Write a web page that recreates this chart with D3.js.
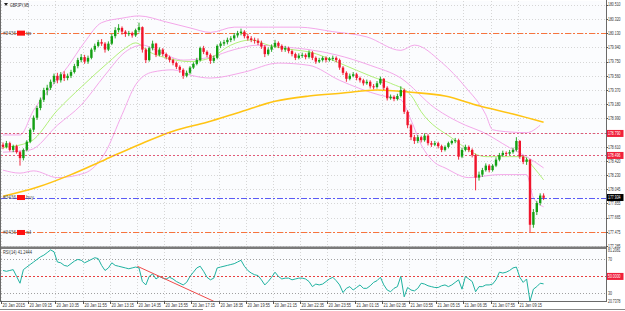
<!DOCTYPE html>
<html>
<head>
<meta charset="utf-8">
<script src="https://cdn.jsdelivr.net/npm/d3@7/dist/d3.min.js"></script>
<style>
  body { margin: 0; background: #ffffff; }
  svg { display: block; }
  text { font-family: "Liberation Sans", "DejaVu Sans", sans-serif; }
</style>
</head>
<body>
<svg id="chart" width="625" height="311"></svg>
<script>
// ---- data ----
const firstOpen = 178.64;
const closes = [178.61,178.66,178.57,178.62,178.54,178.46,178.57,178.68,178.84,179.00,
  179.13,179.24,179.37,179.40,179.48,179.56,179.50,179.58,179.53,179.56,
  179.61,179.69,179.77,179.81,179.75,179.80,179.91,179.96,180.01,179.99,
  179.91,179.99,180.09,180.17,180.20,180.15,180.12,180.13,180.10,180.17,
  180.21,179.91,179.77,179.93,179.99,179.84,179.91,179.85,179.81,179.77,
  179.73,179.68,179.64,179.56,179.60,179.67,179.72,179.77,179.93,179.88,
  179.84,179.76,179.80,179.96,179.99,180.01,180.04,180.06,180.10,180.13,
  180.15,180.09,180.06,180.04,180.03,180.00,179.95,179.85,179.91,179.95,
  180.00,179.96,179.91,179.93,179.89,179.85,179.80,179.83,179.84,179.81,
  179.87,179.80,179.75,179.77,179.80,179.77,179.79,179.80,179.77,179.67,
  179.60,179.52,179.56,179.58,179.53,179.50,179.46,179.48,179.42,179.41,
  179.46,179.52,179.40,179.26,179.28,179.25,179.29,179.37,179.08,178.90,
  178.74,178.69,178.74,178.70,178.76,178.66,178.64,178.66,178.62,178.57,
  178.61,178.66,178.69,178.70,178.48,178.57,178.61,178.57,178.50,178.20,
  178.24,178.30,178.36,178.30,178.36,178.44,178.50,178.53,178.52,178.54,
  178.57,178.69,178.48,178.41,178.44,177.57,177.74,177.86,177.96,177.93];
const highs = [178.67,178.69,178.68,178.64,178.64,178.56,178.59,178.70,178.86,179.03,
  179.16,179.27,179.40,179.44,179.51,179.59,179.60,179.61,179.62,179.59,
  179.64,179.72,179.80,179.85,179.84,179.83,179.93,179.99,180.04,180.05,
  180.01,180.02,180.12,180.21,180.25,180.22,180.17,180.16,180.15,180.19,
  180.27,180.22,179.93,179.95,180.03,180.00,179.94,179.93,179.87,179.83,
  179.79,179.75,179.70,179.66,179.63,179.69,179.74,179.80,179.95,179.96,
  179.90,179.86,179.83,179.98,180.02,180.04,180.07,180.09,180.13,180.16,
  180.19,180.17,180.12,180.09,180.07,180.06,180.03,179.97,179.94,179.98,
  180.04,180.02,179.98,179.96,179.95,179.91,179.87,179.86,179.87,179.86,
  179.90,179.89,179.82,179.80,179.82,179.82,179.81,179.83,179.82,179.79,
  179.69,179.62,179.59,179.61,179.60,179.55,179.52,179.51,179.50,179.45,
  179.49,179.55,179.53,179.42,179.31,179.30,179.32,179.42,179.39,179.10,
  178.92,178.77,178.77,178.76,178.79,178.78,178.69,178.69,178.68,178.64,
  178.63,178.68,178.71,178.73,178.72,178.60,178.64,178.63,178.59,178.52,
  178.28,178.33,178.39,178.38,178.38,178.47,178.53,178.56,178.55,178.57,
  178.60,178.74,178.70,178.50,178.47,178.45,177.78,177.89,177.99,177.99];
const lows = [178.58,178.59,178.55,178.54,178.52,178.36,178.43,178.55,178.66,178.81,
  178.97,179.10,179.21,179.30,179.37,179.45,179.46,179.47,179.49,179.50,
  179.53,179.59,179.66,179.74,179.72,179.72,179.78,179.88,179.94,179.96,
  179.87,179.89,179.97,180.06,180.14,180.11,180.08,180.09,180.07,180.08,
  180.14,179.87,179.73,179.75,179.90,179.81,179.82,179.82,179.78,179.74,
  179.70,179.65,179.60,179.52,179.54,179.58,179.65,179.70,179.75,179.85,
  179.81,179.72,179.73,179.78,179.93,179.96,179.98,180.01,180.03,180.07,
  180.10,180.06,180.03,180.01,179.99,179.97,179.92,179.81,179.83,179.88,
  179.93,179.93,179.88,179.88,179.86,179.82,179.77,179.78,179.80,179.78,
  179.79,179.77,179.72,179.73,179.75,179.74,179.75,179.76,179.74,179.64,
  179.57,179.48,179.50,179.54,179.50,179.47,179.43,179.44,179.39,179.38,
  179.39,179.44,179.37,179.23,179.24,179.22,179.23,179.27,179.05,178.86,
  178.70,178.65,178.66,178.67,178.68,178.63,178.61,178.62,178.59,178.54,
  178.55,178.59,178.64,178.66,178.44,178.46,178.55,178.54,178.47,178.03,
  178.16,178.21,178.28,178.27,178.28,178.34,178.42,178.48,178.49,178.50,
  178.52,178.55,178.45,178.38,178.37,177.47,177.53,177.70,177.83,177.90];

// indicator lines, read at a few bar positions: [bar, price]
const ma200 = [[0,177.95],[10,178.07],[20,178.24],[30,178.44],[40,178.64],[50,178.82],[60,178.94],
  [70,179.08],[80,179.22],[90,179.29],[100,179.33],[110,179.37],[120,179.34],[130,179.29],
  [140,179.16],[150,179.05],[159,178.94]];
const maFast = [[0,178.60],[8,178.68],[16,179.10],[23,179.41],[31,179.74],[36,179.93],[39,180.00],
  [43,179.88],[48,179.80],[55,179.75],[61,179.80],[67,179.97],[73,180.04],[78,179.97],[85,179.91],
  [90,179.88],[99,179.73],[109,179.54],[114,179.46],[120,179.30],[123,179.08],[132,178.73],
  [142,178.48],[149,178.48],[153,178.48],[156,178.34],[159,178.17]];
const bandUpper = [[0,178.77],[5,178.77],[9,179.10],[14,179.40],[19,179.68],[24,180.01],[29,180.27],
  [35,180.33],[40,180.36],[48,180.28],[55,180.20],[61,180.14],[68,180.21],[78,180.21],[87,180.21],
  [97,180.15],[107,180.08],[117,179.90],[121,179.97],[129,179.74],[136,179.41],[142,179.04],
  [144,178.84],[149,178.81],[154,178.80],[158,178.90]];
const bandMid = [[0,178.54],[8,178.57],[16,178.90],[23,179.17],[30,179.57],[36,179.88],[41,179.97],
  [46,179.88],[53,179.77],[61,179.81],[68,179.91],[75,179.97],[81,179.95],[90,179.91],[98,179.84],
  [108,179.70],[117,179.53],[127,179.13],[136,178.90],[141,178.81],[149,178.60],[154,178.48],[159,178.33]];
const bandLower = [[0,178.30],[5,178.26],[9,178.29],[16,178.20],[24,178.26],[30,178.53],[35,179.04],
  [39,179.44],[44,179.61],[50,179.64],[55,179.57],[61,179.53],[71,179.61],[81,179.73],[90,179.70],
  [99,179.50],[111,179.30],[117,179.24],[120,178.97],[123,178.64],[127,178.40],[130,178.33],
  [137,178.20],[146,178.24],[154,178.24],[156,177.93],[159,177.81]];

const rsi = [57,56,57,58,50,42,58,61,64,67,
  70,73,75,78,81.2,79,67,66,63,62,
  65,68,70,69,66,68,70,72,71,63,
  57,60,66,63,62,61,60,59,60,61,
  60,44,40,50,53,47,50,48,47,49,
  47,44,42,40,43,50,55,60,62,56,
  49,46,48,60,61,62,63,64,65,67,
  69,62,57,54,52,51,46,40,44,49,
  55,50,47,48,48,46,47,48,48,47,
  44,38,41,40,41,44,47,49,45,40,
  31,36,38,34,37,40,36,36,39,43,
  45,49,40,34,32,36,38,50,26,37,
  34,33,36,42,41,39,38,37,37,39,
  40,38,40,43,46,35,50,47,44,32,
  38,38,40,40,41,46,55,54,55,57,
  60,61,49,43,47,20.74,35,38,42,41.24];
const rsiTrend = [[39.5,62],[62,20.74]];

const priceTicks = ["180.510","180.320","180.130","179.940","179.750","179.560","179.370","179.180",
  "178.990","178.800","178.610","178.420","178.230","178.045","177.855","177.665","177.475","177.285"];
const timeTicks = ["20 Jan 2015","20 Jan 09:15","20 Jan 10:35","20 Jan 11:55","20 Jan 13:15","20 Jan 14:35",
  "20 Jan 15:55","20 Jan 17:15","20 Jan 18:35","20 Jan 19:55","20 Jan 21:15","20 Jan 22:35","20 Jan 23:55",
  "21 Jan 01:15","21 Jan 02:35","21 Jan 03:55","21 Jan 05:15","21 Jan 06:35","21 Jan 07:55","21 Jan 09:15"];
const rsiTicks = [["81.2081",81.2081],["70",70],["30",30],["20.7378",20.7378]];

// order / price lines
const tpLevel = 180.13, slLevel = 177.467, buyLevel = 177.934;
const alertLevels = [["178.790",178.790],["178.496",178.496]];
const bid = ["177.934",177.934];

// ---- layout ----
const svg = d3.select("#chart");
const plotL = 1, plotR = 606;
const x = d3.scaleLinear().domain([0, 159]).range([3, 543.6]);
const y = d3.scaleLinear().domain([177.285, 180.510]).range([246.1, 4.7]);
const yr = d3.scaleLinear().domain([20.7378, 81.2081]).range([301.3, 249.9]);

// text helper: squeezes tiny MT4 labels into the width they take in the picture
function label(g, tx, ty, str, w, fill, size) {
  const t = g.append("text").attr("x", tx).attr("y", ty).attr("font-size", size || 5).text(str);
  if (fill) t.attr("fill", fill);
  if (w) t.attr("textLength", w).attr("lengthAdjust", "spacingAndGlyphs");
  return t;
}

svg.append("rect").attr("width", 625).attr("height", 311).attr("fill", "#ffffff");
svg.append("rect").attr("x", plotL).attr("y", 1).attr("width", plotR - plotL).attr("height", 300)
  .attr("fill", "#fbfcfe");

// grid
const grid = svg.append("g").attr("stroke", "#d6d6d6").attr("stroke-dasharray", "1,2").attr("stroke-width", 1);
timeTicks.forEach((t, k) => {
  const gx = Math.round(x(8 * k - 0.6)) + 0.5;
  grid.append("line").attr("x1", gx).attr("x2", gx).attr("y1", 1).attr("y2", 246);
  grid.append("line").attr("x1", gx).attr("x2", gx).attr("y1", 249).attr("y2", 301);
});
priceTicks.forEach(t => {
  const gy = Math.round(y(+t)) + 0.5;
  grid.append("line").attr("x1", plotL).attr("x2", plotR).attr("y1", gy).attr("y2", gy);
});

// indicator lines
const line = d3.line().x(d => x(d[0])).y(d => y(d[1])).curve(d3.curveMonotoneX);
[[bandUpper, "#f4a8ea"], [bandMid, "#f4a8ea"], [bandLower, "#f4a8ea"], [maFast, "#b2f07a"], [ma200, "#ffc414"]]
  .forEach(([d, c], k) => {
    svg.append("path").datum(d).attr("d", line).attr("fill", "none").attr("stroke", c)
      .attr("stroke-width", k === 4 ? 1.6 : 1);
  });

// horizontal order lines
function hline(v, color, dash) {
  const gy = Math.round(y(v)) + 0.5;
  svg.append("line").attr("x1", plotL).attr("x2", plotR).attr("y1", gy).attr("y2", gy)
    .attr("stroke", color).attr("stroke-width", 1).attr("stroke-dasharray", dash);
}
hline(tpLevel, "#f7743e", "6,2,2,2");
hline(slLevel, "#f7743e", "6,2,2,2");
hline(buyLevel, "#5b5bf5", "6,2,2,2");
alertLevels.forEach(a => hline(a[1], "#e05a78", "2,2"));

// candles
const opens = [firstOpen].concat(closes.slice(0, -1));
const candles = svg.append("g");
closes.forEach((c, i) => {
  const o = opens[i];
  const col = c >= o ? "#14a014" : "#f0142c";
  const cx = x(i);
  candles.append("line").attr("x1", cx).attr("x2", cx).attr("y1", y(highs[i])).attr("y2", y(lows[i]))
    .attr("stroke", col).attr("stroke-width", 0.9);
  const top = y(Math.max(o, c)), bot = y(Math.min(o, c));
  candles.append("rect").attr("x", cx - 1.2).attr("y", top).attr("width", 2.4)
    .attr("height", Math.max(1, bot - top)).attr("fill", col);
});

// left order tags
const tagG = svg.append("g").attr("fill", "#555");
[[tpLevel, "tp"], [buyLevel, "buy"], [slLevel, "sl"]].forEach(([v, kind]) => {
  const gy = y(v);
  label(tagG, 3, gy + 1.6, "#3436", 13);
  svg.append("rect").attr("x", 17).attr("y", gy - 2.5).attr("width", 8).attr("height", 5).attr("fill", "#ff1010");
  label(tagG, 26, gy + 1.6, kind, kind.length * 2.6);
});

// title
svg.append("path").attr("d", "M4,3 L8,3 L6,6 Z").attr("fill", "#222");
label(svg, 10, 7, "GBPJPY,M5", 19, "#222");

// RSI panel
svg.append("rect").attr("x", plotL).attr("y", 246.5).attr("width", plotR - plotL).attr("height", 2.5).attr("fill", "#7a7a7a");
[[70, "#a0a0a0", "1,2"], [30, "#a0a0a0", "1,2"], [50, "#e84040", "2,2"]].forEach(([v, c, d]) => {
  const gy = Math.round(yr(v)) + 0.5;
  svg.append("line").attr("x1", plotL).attr("x2", plotR).attr("y1", gy).attr("y2", gy)
    .attr("stroke", c).attr("stroke-dasharray", d);
});
svg.append("path").datum(rsi)
  .attr("d", d3.line().x((d, i) => x(i)).y(d => yr(d)))
  .attr("fill", "none").attr("stroke", "#1fb2a0").attr("stroke-width", 1);
svg.append("line").attr("x1", x(rsiTrend[0][0])).attr("y1", yr(rsiTrend[0][1]))
  .attr("x2", x(rsiTrend[1][0])).attr("y2", yr(rsiTrend[1][1])).attr("stroke", "#f04a4a").attr("stroke-width", 1);
label(svg, 3, 254, "RSI(14) 41.2444", 29, "#333");

// frame
svg.append("line").attr("x1", 0.5).attr("x2", 0.5).attr("y1", 0).attr("y2", 302).attr("stroke", "#6a6a6a");
svg.append("line").attr("x1", plotR + 0.5).attr("x2", plotR + 0.5).attr("y1", 0).attr("y2", 302).attr("stroke", "#6a6a6a");
svg.append("line").attr("x1", 0).attr("x2", plotR).attr("y1", 301.5).attr("y2", 301.5).attr("stroke", "#6a6a6a");

// right price axis
const axisG = svg.append("g").attr("fill", "#333");
priceTicks.forEach(t => {
  const gy = y(+t);
  svg.append("line").attr("x1", plotR).attr("x2", plotR + 2).attr("y1", Math.round(gy) + 0.5)
    .attr("y2", Math.round(gy) + 0.5).attr("stroke", "#555");
  label(axisG, 608, gy + 1.7, t, 12.5, null, 4.5);
});
rsiTicks.forEach(([t, v]) => {
  label(axisG, 608, yr(v) + 1.7, t, t.length > 2 ? 12.5 : 4, null, 4.5);
});
function boxLabel(v, scale, text, bg) {
  const gy = scale(v);
  svg.append("rect").attr("x", 607).attr("y", gy - 3.5).attr("width", 16.5).attr("height", 7).attr("fill", bg);
  label(svg, 608, gy + 1.7, text, 12.5, "#fff", 4.5);
}
alertLevels.forEach(a => boxLabel(a[1], y, a[0], "#f0203a"));
boxLabel(bid[1], y, bid[0], "#000");
boxLabel(50, yr, "50.0000", "#f0203a");

// time axis
const tg = svg.append("g").attr("fill", "#333");
timeTicks.forEach((t, k) => {
  const tx = Math.round(x(8 * k - 0.6)) + 0.5;
  svg.append("line").attr("x1", tx).attr("x2", tx).attr("y1", 301).attr("y2", 304).attr("stroke", "#555");
  label(tg, tx + 1, 306.5, t, 22.5);
});

// bottom tabs
svg.append("line").attr("x1", 0).attr("x2", 203).attr("y1", 309.5).attr("y2", 309.5).attr("stroke", "#888");
svg.append("line").attr("x1", 300).attr("x2", 625).attr("y1", 309.5).attr("y2", 309.5).attr("stroke", "#888");
</script>
</body>
</html>
